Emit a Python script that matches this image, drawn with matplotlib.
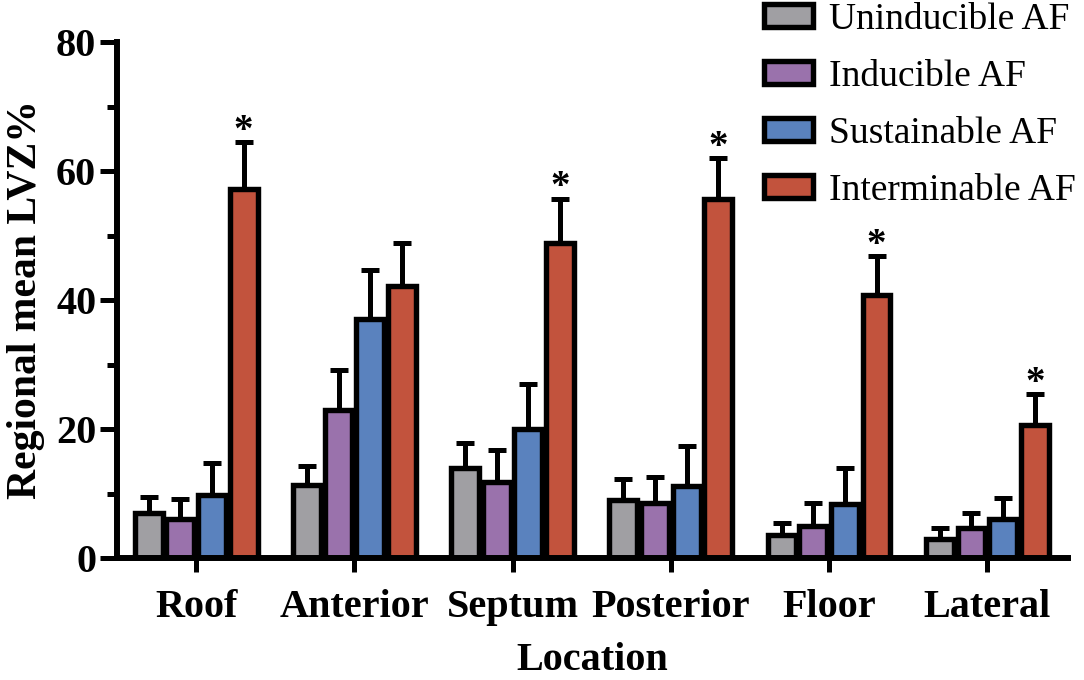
import numpy as np
import matplotlib
matplotlib.use("Agg")
import matplotlib.pyplot as plt
from matplotlib.ticker import MultipleLocator

locations = ["Roof", "Anterior", "Septum", "Posterior", "Floor", "Lateral"]
groups = ["Uninducible AF", "Inducible AF", "Sustainable AF", "Interminable AF"]
colors = ["#A09FA3", "#9A72AC", "#5A82BE", "#C2533D"]

# mean regional LVZ% per group, one value per location
uninducible = [7.0, 11.3, 14.0, 9.0, 3.6, 3.0]
inducible = [6.0, 22.9, 11.8, 8.5, 4.9, 4.7]
sustainable = [9.8, 37.0, 20.0, 11.2, 8.3, 6.0]
interminable = [57.2, 42.2, 48.9, 55.6, 40.8, 20.6]

# upper error (SEM) per group
uninducible_err = [2.5, 2.9, 3.8, 3.3, 1.9, 1.6]
inducible_err = [3.2, 6.3, 4.9, 4.1, 3.7, 2.3]
sustainable_err = [4.9, 7.6, 6.9, 6.2, 5.6, 3.3]
interminable_err = [7.3, 6.6, 6.8, 6.4, 6.0, 4.8]

# asterisk above the interminable bar
significant = [True, False, True, True, True, True]

means = [uninducible, inducible, sustainable, interminable]
errs = [uninducible_err, inducible_err, sustainable_err, interminable_err]

plt.rcParams["font.family"] = ["Liberation Serif", "DejaVu Serif"]

fig = plt.figure(figsize=(10.84, 6.8), dpi=100)
ax = fig.add_axes([117 / 1084, 1 - 558 / 680, (1068 - 117) / 1084, (558 - 42) / 680])

x = np.arange(len(locations))
pitch = 0.2
width = 0.176
lw = 3.9

for i, (m, e, c, name) in enumerate(zip(means, errs, colors, groups)):
    pos = x + (i - 1.5) * pitch
    ax.errorbar(pos, m, yerr=[np.zeros(len(m)), e], fmt="none", ecolor="black",
                elinewidth=3.6, capsize=6.5, capthick=3.6, zorder=1)
    ax.bar(pos, m, width=width, color=c, edgecolor="black", linewidth=lw,
           label=name, zorder=2)

star_pos = x + 1.5 * pitch
for xp, m, e, s in zip(star_pos, interminable, interminable_err, significant):
    if s:
        ax.text(xp, m + e - 1.2, "*", ha="center", va="bottom",
                fontsize=28, fontweight="bold")

ax.set_xlim(-0.5, 5.51)
ax.set_ylim(0, 80)
ax.set_xticks(x)
ax.set_xticklabels(locations)
ax.yaxis.set_major_locator(MultipleLocator(20))
ax.yaxis.set_minor_locator(MultipleLocator(10))

for side in ("top", "right"):
    ax.spines[side].set_visible(False)
for side in ("left", "bottom"):
    ax.spines[side].set_linewidth(4.3)
    ax.spines[side].set_capstyle("projecting")

ax.tick_params(axis="x", length=10, width=3.6, pad=12, labelsize=29)
ax.tick_params(axis="y", which="major", length=12, width=3.6, pad=3, labelsize=29)
ax.tick_params(axis="y", which="minor", length=7, width=3.6)
for lab in ax.get_xticklabels() + ax.get_yticklabels():
    lab.set_fontweight("bold")

ax.set_xlabel("Location", fontsize=29, fontweight="bold", labelpad=12)
ax.set_ylabel("Regional mean LVZ%", fontsize=30, fontweight="bold", labelpad=8)

leg = fig.legend(loc="upper left", bbox_to_anchor=(738 / 1084, 1 + 24 / 680),
                 frameon=False, fontsize=27, handlelength=1.31,
                 handleheight=0.56, handletextpad=0.42, labelspacing=0.6,
                 borderpad=0.2)
for h in leg.legend_handles:
    h.set_linewidth(lw)

fig.savefig("out.png", dpi=100)
